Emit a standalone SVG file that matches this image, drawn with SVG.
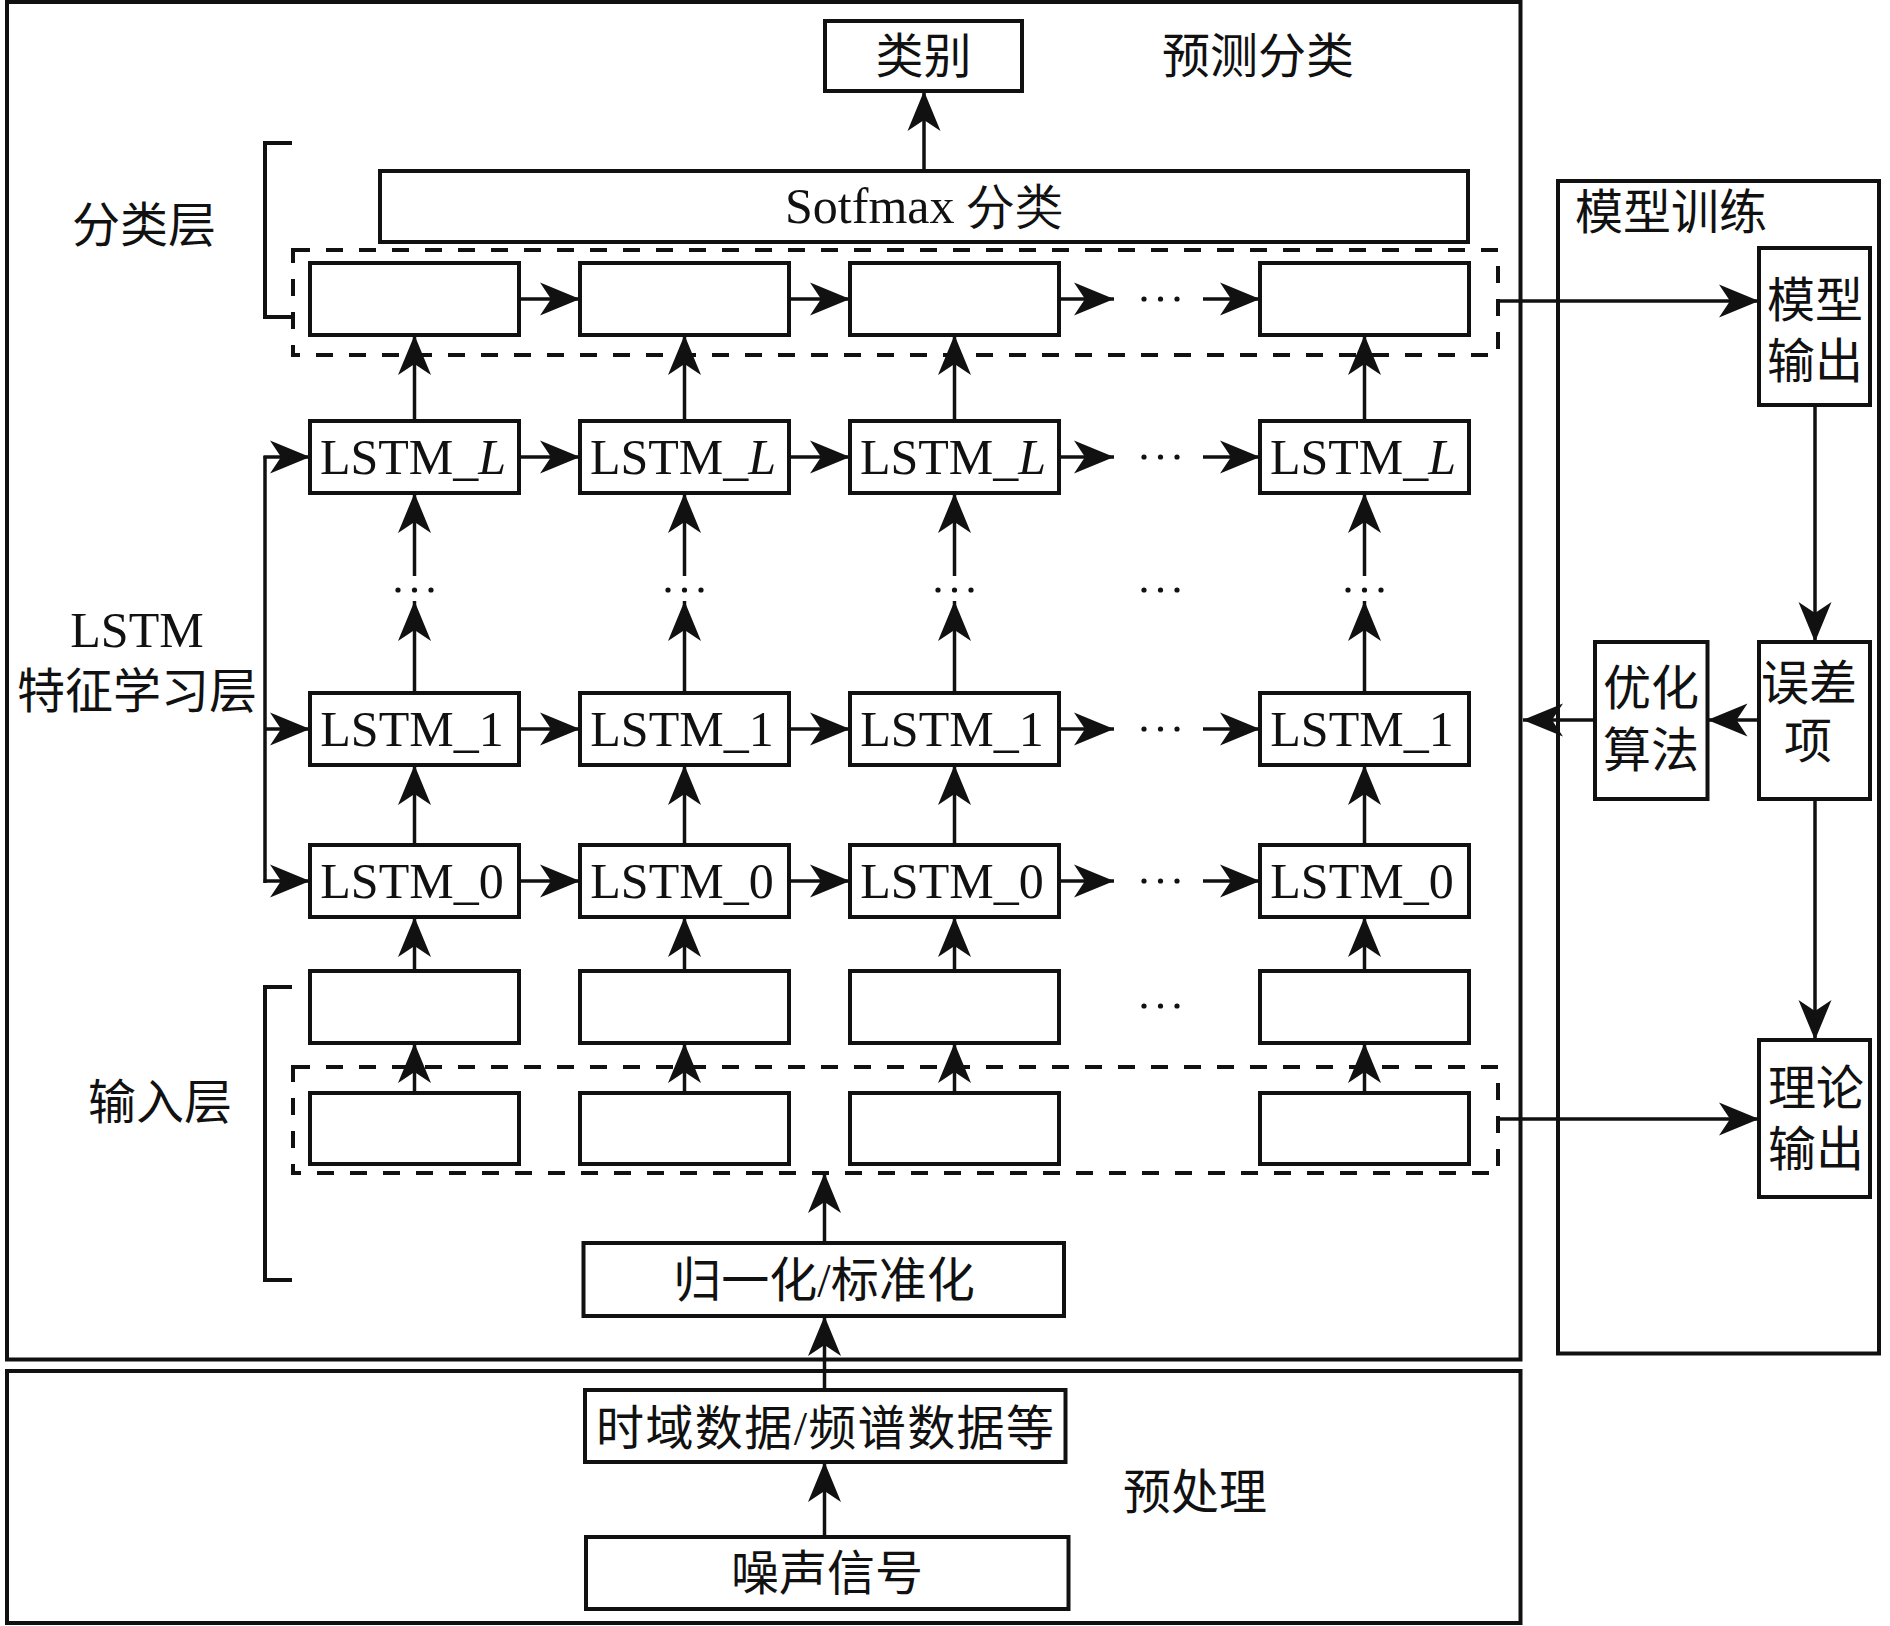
<svg xmlns="http://www.w3.org/2000/svg" width="1890" height="1626" viewBox="0 0 1890 1626">
<style>
.box{fill:#fff;stroke:#111;stroke-width:4}
.frame{fill:none;stroke:#111;stroke-width:4}
.dash{fill:none;stroke:#111;stroke-width:4;stroke-dasharray:17 16}
.ln{fill:none;stroke:#111;stroke-width:3.5}
.arr{fill:none;stroke:#111;stroke-width:3.5;marker-end:url(#ah)}
.t{font-family:"Liberation Serif","Times New Roman","Noto Sans CJK SC",serif;font-size:48px;fill:#111;text-anchor:middle;dominant-baseline:central}
.lt{font-family:"Liberation Serif","Times New Roman",serif;font-size:50px;fill:#111;text-anchor:middle;dominant-baseline:central}
.dot{fill:#111}
</style>
<defs>
<marker id="ah" markerUnits="userSpaceOnUse" orient="auto" refX="0" refY="0" markerWidth="50" markerHeight="40" viewBox="-45 -20 50 40" overflow="visible">
<path d="M0,0 L-40,-16.5 L-29,0 L-40,16.5 Z" fill="#111"/>
</marker>
<g id="dots3"><circle cx="-16.5" cy="0" r="2.6"/><circle cx="0" cy="0" r="2.6"/><circle cx="16.5" cy="0" r="2.6"/></g>
</defs>
<rect width="1890" height="1626" fill="#fff"/>

<g id="frames">
<rect id="frame-main" class="frame" x="7" y="2" width="1513.5" height="1357.5"/>
<rect id="frame-pre" class="frame" x="7" y="1371" width="1513.5" height="252"/>
<rect id="frame-train" class="frame" x="1558" y="181" width="321" height="1172.5"/>
<rect id="dash-cls" class="dash" x="293" y="250" width="1205" height="105"/>
<rect id="dash-in" class="dash" x="293" y="1067" width="1205" height="106"/>
<path id="bracket-cls" class="frame" d="M292,143 H265 V317 H292"/>
<path id="bracket-in" class="frame" d="M292,987 H265 V1280 H292"/>
</g>

<g id="labels">
<text class="t" x="144" y="225">分类层</text>
<text class="lt" x="137" y="630">LSTM</text>
<text class="t" x="137" y="691">特征学习层</text>
<text class="t" x="160" y="1102">输入层</text>
<text class="t" x="1258" y="56">预测分类</text>
<text class="t" x="1195" y="1492">预处理</text>
<text class="t" x="1575" y="212" style="text-anchor:start">模型训练</text>
</g>

<g id="node-class"><rect class="box" x="825" y="21" width="197" height="70"/><text class="t" x="923.5" y="56">类别</text></g>
<g id="node-softmax"><rect class="box" x="380" y="171" width="1088" height="71"/><text class="lt" x="924" y="206">Sotfmax <tspan style="font-size:48px">分类</tspan></text></g>

<g id="row-cls">
<rect class="box" x="310" y="263" width="209" height="72"/>
<rect class="box" x="580" y="263" width="209" height="72"/>
<rect class="box" x="850" y="263" width="209" height="72"/>
<rect class="box" x="1260" y="263" width="209" height="72"/>
</g>
<g id="row-lstmL">
<rect class="box" x="310" y="421" width="209" height="72"/><text class="lt" x="413" y="457">LSTM_<tspan font-style="italic">L</tspan></text>
<rect class="box" x="580" y="421" width="209" height="72"/><text class="lt" x="683" y="457">LSTM_<tspan font-style="italic">L</tspan></text>
<rect class="box" x="850" y="421" width="209" height="72"/><text class="lt" x="953" y="457">LSTM_<tspan font-style="italic">L</tspan></text>
<rect class="box" x="1260" y="421" width="209" height="72"/><text class="lt" x="1363" y="457">LSTM_<tspan font-style="italic">L</tspan></text>
</g>
<g id="row-lstm1">
<rect class="box" x="310" y="693" width="209" height="72"/><text class="lt" x="412" y="729">LSTM_1</text>
<rect class="box" x="580" y="693" width="209" height="72"/><text class="lt" x="682" y="729">LSTM_1</text>
<rect class="box" x="850" y="693" width="209" height="72"/><text class="lt" x="952" y="729">LSTM_1</text>
<rect class="box" x="1260" y="693" width="209" height="72"/><text class="lt" x="1362" y="729">LSTM_1</text>
</g>
<g id="row-lstm0">
<rect class="box" x="310" y="845" width="209" height="72"/><text class="lt" x="412" y="881">LSTM_0</text>
<rect class="box" x="580" y="845" width="209" height="72"/><text class="lt" x="682" y="881">LSTM_0</text>
<rect class="box" x="850" y="845" width="209" height="72"/><text class="lt" x="952" y="881">LSTM_0</text>
<rect class="box" x="1260" y="845" width="209" height="72"/><text class="lt" x="1362" y="881">LSTM_0</text>
</g>
<g id="row-in1">
<rect class="box" x="310" y="971" width="209" height="72"/>
<rect class="box" x="580" y="971" width="209" height="72"/>
<rect class="box" x="850" y="971" width="209" height="72"/>
<rect class="box" x="1260" y="971" width="209" height="72"/>
</g>
<g id="row-in2">
<rect class="box" x="310" y="1093" width="209" height="71"/>
<rect class="box" x="580" y="1093" width="209" height="71"/>
<rect class="box" x="850" y="1093" width="209" height="71"/>
<rect class="box" x="1260" y="1093" width="209" height="71"/>
</g>

<g id="node-norm"><rect class="box" x="583.5" y="1243" width="480.5" height="73"/><text class="t" x="824" y="1280">归一化/标准化</text></g>
<g id="node-data"><rect class="box" x="585" y="1390" width="480.5" height="72"/><text class="t" x="825" y="1428" textLength="458" lengthAdjust="spacing">时域数据/频谱数据等</text></g>
<g id="node-noise"><rect class="box" x="586" y="1537" width="482.5" height="72"/><text class="t" x="827" y="1573">噪声信号</text></g>

<g id="node-modelout"><rect class="box" x="1759" y="248" width="111" height="157"/><text class="t" x="1815" y="300">模型</text><text class="t" x="1815" y="361">输出</text></g>
<g id="node-error"><rect class="box" x="1759" y="642" width="111" height="157"/><text class="t" x="1809" y="683">误差</text><text class="t" x="1808" y="741">项</text></g>
<g id="node-optim"><rect class="box" x="1595" y="642" width="112.5" height="157"/><text class="t" x="1651" y="688">优化</text><text class="t" x="1651" y="750">算法</text></g>
<g id="node-theory"><rect class="box" x="1759" y="1040" width="111" height="157"/><text class="t" x="1816" y="1088">理论</text><text class="t" x="1816" y="1149">输出</text></g>

<g id="dots" class="dot">
<use href="#dots3" x="1160.5" y="299"/>
<use href="#dots3" x="1160.5" y="457"/>
<use href="#dots3" x="1160.5" y="729"/>
<use href="#dots3" x="1160.5" y="881"/>
<use href="#dots3" x="1160.5" y="1006"/>
<use href="#dots3" x="1160.5" y="590"/>
<use href="#dots3" x="414.5" y="590"/>
<use href="#dots3" x="684.5" y="590"/>
<use href="#dots3" x="954.5" y="590"/>
<use href="#dots3" x="1364.5" y="590"/>
</g>

<g id="connectors">
<path class="arr" d="M924,171 V91"/>
<!-- horizontal arrows -->
<path class="arr" d="M519,299 H580"/><path class="arr" d="M789,299 H850"/><path class="arr" d="M1059,299 H1114"/><path class="arr" d="M1203,299 H1260"/>
<path class="arr" d="M519,457 H580"/><path class="arr" d="M789,457 H850"/><path class="arr" d="M1059,457 H1114"/><path class="arr" d="M1203,457 H1260"/>
<path class="arr" d="M519,729 H580"/><path class="arr" d="M789,729 H850"/><path class="arr" d="M1059,729 H1114"/><path class="arr" d="M1203,729 H1260"/>
<path class="arr" d="M519,881 H580"/><path class="arr" d="M789,881 H850"/><path class="arr" d="M1059,881 H1114"/><path class="arr" d="M1203,881 H1260"/>
<!-- vertical arrows col 1 -->
<path class="arr" d="M414.5,421 V335"/><path class="arr" d="M414.5,576 V493"/><path class="arr" d="M414.5,693 V601"/><path class="arr" d="M414.5,845 V765"/><path class="arr" d="M414.5,971 V917"/><path class="arr" d="M414.5,1093 V1043"/>
<path class="arr" d="M684.5,421 V335"/><path class="arr" d="M684.5,576 V493"/><path class="arr" d="M684.5,693 V601"/><path class="arr" d="M684.5,845 V765"/><path class="arr" d="M684.5,971 V917"/><path class="arr" d="M684.5,1093 V1043"/>
<path class="arr" d="M954.5,421 V335"/><path class="arr" d="M954.5,576 V493"/><path class="arr" d="M954.5,693 V601"/><path class="arr" d="M954.5,845 V765"/><path class="arr" d="M954.5,971 V917"/><path class="arr" d="M954.5,1093 V1043"/>
<path class="arr" d="M1364.5,421 V335"/><path class="arr" d="M1364.5,576 V493"/><path class="arr" d="M1364.5,693 V601"/><path class="arr" d="M1364.5,845 V765"/><path class="arr" d="M1364.5,971 V917"/><path class="arr" d="M1364.5,1093 V1043"/>
<!-- LSTM bracket -->
<path class="ln" d="M265,456 V883"/>
<path class="arr" d="M263.5,457 H310"/><path class="arr" d="M265,729 H310"/><path class="arr" d="M263.5,881 H310"/>
<!-- preprocessing chain -->
<path class="arr" d="M824.5,1243 V1173"/>
<path class="arr" d="M824.5,1390 V1316"/>
<path class="arr" d="M824.5,1537 V1462"/>
<!-- training loop -->
<path class="arr" d="M1498,301 H1759"/>
<path class="arr" d="M1815,405 V642"/>
<path class="arr" d="M1759,720 H1707.5"/>
<path class="arr" d="M1595,720 H1523"/>
<path class="arr" d="M1815,799 V1040"/>
<path class="arr" d="M1498,1119 H1759"/>
</g>
</svg>
